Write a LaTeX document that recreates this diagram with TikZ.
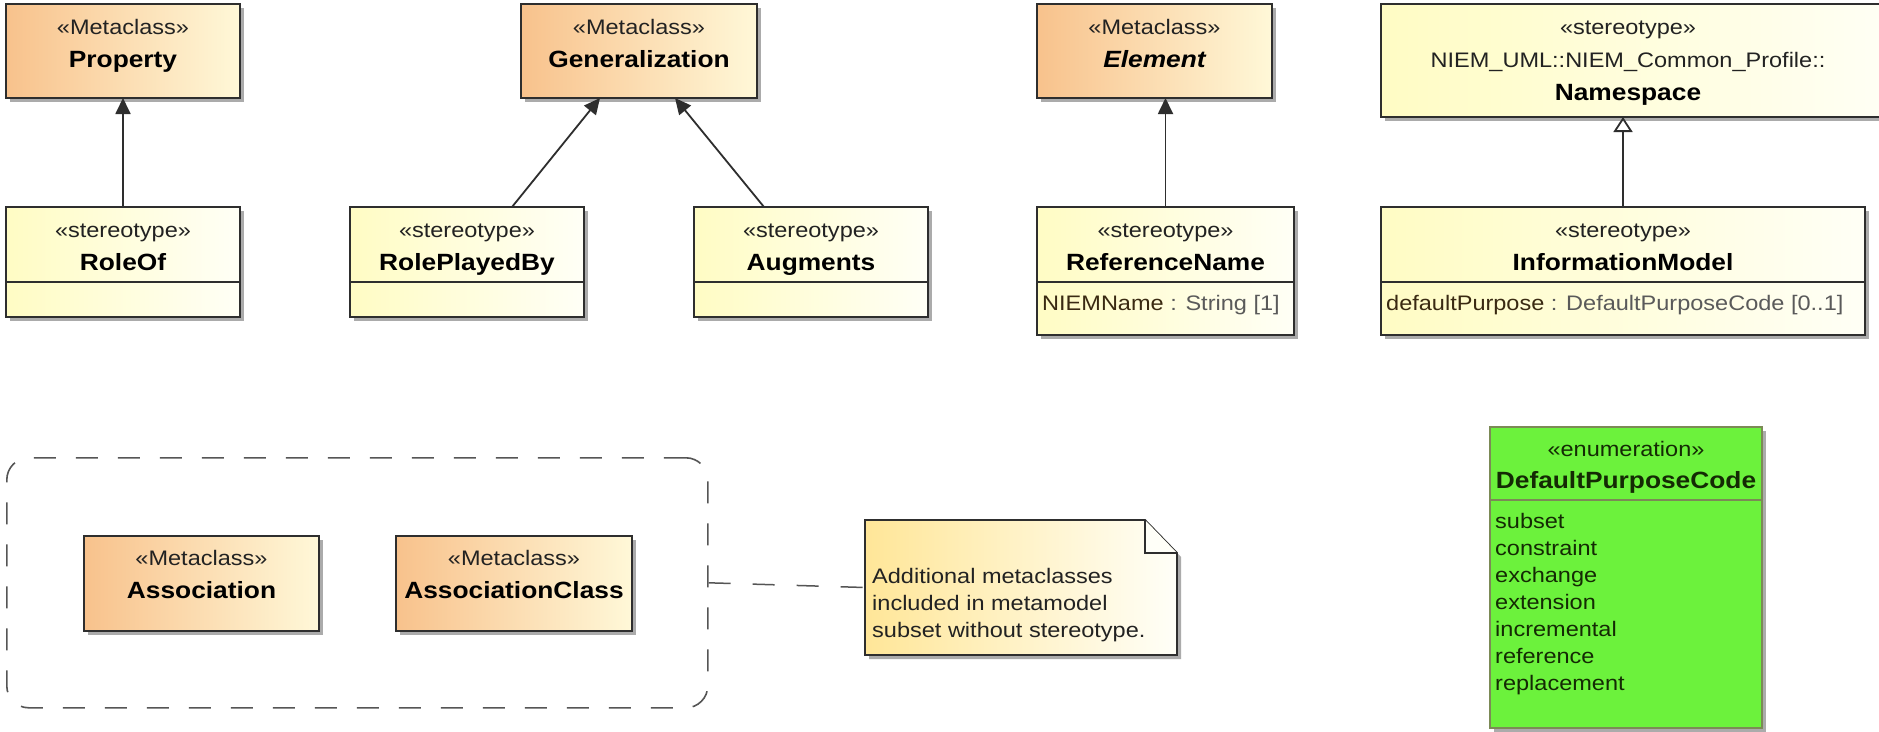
\documentclass[tikz,border=0pt]{standalone}
\usepackage{fontspec}
\setmainfont{Liberation Sans}[FakeStretch=1.12]
\usetikzlibrary{arrows.meta,shadows,calc}

% palette
\definecolor{metaL}{HTML}{F8C28C}
\definecolor{metaR}{HTML}{FFF8D8}
\definecolor{stereoL}{HTML}{FFFCC4}
\definecolor{stereoR}{HTML}{FFFFF6}
\definecolor{noteL}{HTML}{FFE698}
\definecolor{noteR}{HTML}{FFFFF8}
\definecolor{enumfill}{HTML}{6CF23C}
\definecolor{enumline}{HTML}{7C8A56}
\definecolor{enumtext}{HTML}{142A04}
\definecolor{edgec}{HTML}{2E2E2E}
\definecolor{dashc}{HTML}{555555}
\definecolor{shadowc}{HTML}{ABABAB}
\definecolor{kwc}{HTML}{222222}
\definecolor{attrc}{HTML}{3A2A12}
\definecolor{typec}{HTML}{5A5A5A}

\tikzset{
  umlbox/.style={draw=edgec, line width=1.8pt, anchor=north west, inner sep=0pt, outer sep=0pt,
    drop shadow={shadow xshift=4pt, shadow yshift=-4pt, fill=shadowc, opacity=1}},
  metabox/.style={umlbox, left color=metaL, right color=metaR},
  stereobox/.style={umlbox, left color=stereoL, right color=stereoR},
  kw/.style={anchor=base, inner sep=0pt, font=\fontsize{21}{25}\selectfont, text=kwc},
  cname/.style={anchor=base, inner sep=0pt, font=\fontsize{23.5}{27}\selectfont\bfseries, text=black},
  attr/.style={anchor=base west, inner sep=0pt, font=\fontsize{21}{25}\selectfont, text=attrc},
  notetext/.style={anchor=base west, inner sep=0pt, font=\fontsize{21}{25}\selectfont, text=kwc},
  divider/.style={edgec, line width=1.5pt},
  ext/.style={edgec, line width=1.8pt, -{Triangle[length=16pt,width=15pt]}},
  genarrow/.style={edgec, line width=1.8pt, -{Triangle[open,length=15pt,width=19pt,fill=white]}},
  link/.style={dashc, line width=1.5pt, dash pattern=on 22pt off 22pt},
}

\begin{document}
\begin{tikzpicture}[x=1pt,y=-1pt]
\clip (0,0) rectangle (1879,731);
\fill[white] (0,0) rectangle (1879,731);

% ---------- top row: metaclasses and stereotypes ----------
\node[metabox, minimum width=234pt, minimum height=94pt] (property) at (6,4) {};
\node[kw]    (propertyK) at ($(property.north)+(0,30)$) {«Metaclass»};
\node[cname] (propertyN) at ($(property.north)+(0,63)$) {Property};

\node[stereobox, minimum width=234pt, minimum height=110pt] (roleof) at (6,207) {};
\node[kw]    (roleofK) at ($(roleof.north)+(0,30)$) {«stereotype»};
\node[cname] (roleofN) at ($(roleof.north)+(0,63)$) {RoleOf};
\draw[divider] ($(roleof.north west)+(0,75)$) -- ($(roleof.north east)+(0,75)$);

\node[metabox, minimum width=236pt, minimum height=94pt] (gen) at (521,4) {};
\node[kw]    (genK) at ($(gen.north)+(0,30)$) {«Metaclass»};
\node[cname] (genN) at ($(gen.north)+(0,63)$) {Generalization};

\node[stereobox, minimum width=234pt, minimum height=110pt] (rpb) at (350,207) {};
\node[kw]    (rpbK) at ($(rpb.north)+(0,30)$) {«stereotype»};
\node[cname] (rpbN) at ($(rpb.north)+(0,63)$) {RolePlayedBy};
\draw[divider] ($(rpb.north west)+(0,75)$) -- ($(rpb.north east)+(0,75)$);

\node[stereobox, minimum width=234pt, minimum height=110pt] (aug) at (694,207) {};
\node[kw]    (augK) at ($(aug.north)+(0,30)$) {«stereotype»};
\node[cname] (augN) at ($(aug.north)+(0,63)$) {Augments};
\draw[divider] ($(aug.north west)+(0,75)$) -- ($(aug.north east)+(0,75)$);

\node[metabox, minimum width=235pt, minimum height=94pt] (element) at (1037,4) {};
\node[kw]    (elementK) at ($(element.north)+(0,30)$) {«Metaclass»};
\node[cname] (elementN) at ($(element.north)+(0,63)$) {\itshape Element};

\node[stereobox, minimum width=257pt, minimum height=128pt] (refname) at (1037,207) {};
\node[kw]    (refnameK) at ($(refname.north)+(0,30)$) {«stereotype»};
\node[cname] (refnameN) at ($(refname.north)+(0,63)$) {ReferenceName};
\draw[divider] ($(refname.north west)+(0,75)$) -- ($(refname.north east)+(0,75)$);
\node[attr]  (refnameA) at ($(refname.north west)+(5,103)$) {NIEMName\textcolor{typec}{\ : String [1]}};

\node[stereobox, minimum width=520pt, minimum height=113pt] (namespace) at (1381,4) {};
\node[kw]    (namespaceK) at ($(namespace.north west)+(247,30)$) {«stereotype»};
\node[kw]    (namespaceP) at ($(namespace.north west)+(247,63)$) {NIEM\_UML::NIEM\_Common\_Profile::};
\node[cname] (namespaceN) at ($(namespace.north west)+(247,96)$) {Namespace};

\node[stereobox, minimum width=484pt, minimum height=128pt] (infomodel) at (1381,207) {};
\node[kw]    (infomodelK) at ($(infomodel.north)+(0,30)$) {«stereotype»};
\node[cname] (infomodelN) at ($(infomodel.north)+(0,63)$) {InformationModel};
\draw[divider] ($(infomodel.north west)+(0,75)$) -- ($(infomodel.north east)+(0,75)$);
\node[attr]  (infomodelA) at ($(infomodel.north west)+(5,103)$) {defaultPurpose\textcolor{typec}{\ : DefaultPurposeCode [0..1]}};

% ---------- extensions and generalization ----------
\draw[ext] (roleof.north) -- (property.south);
\draw[ext] ($(rpb.north west)+(162,0)$) -- ($(gen.south west)+(79,0)$);
\draw[ext] ($(aug.north west)+(70,0)$) -- ($(gen.south west)+(154,0)$);
\draw[ext] (refname.north) -- (refname.north |- element.south);
\draw[genarrow] (infomodel.north) -- (infomodel.north |- namespace.south);

% ---------- bottom row ----------
\node[draw=dashc, line width=1.6pt, dash pattern=on 22pt off 20pt, rounded corners=22pt,
      anchor=north west, inner sep=0pt, minimum width=701pt, minimum height=250pt] (group) at (6,457) {};

\node[metabox, minimum width=235pt, minimum height=95pt] (assoc) at (84,536) {};
\node[kw]    (assocK) at ($(assoc.north)+(0,29)$) {«Metaclass»};
\node[cname] (assocN) at ($(assoc.north)+(0,62)$) {Association};

\node[metabox, minimum width=236pt, minimum height=95pt] (assocclass) at (396,536) {};
\node[kw]    (assocclassK) at ($(assocclass.north)+(0,29)$) {«Metaclass»};
\node[cname] (assocclassN) at ($(assocclass.north)+(0,62)$) {AssociationClass};

% comment note with folded corner
\node[anchor=north west, inner sep=0pt, outer sep=0pt, minimum width=312pt, minimum height=135pt] (note) at (865,520) {};
\fill[shadowc] ($(note.north west)+(4,4)$) -- ($(note.north east)+(-28,4)$) -- ($(note.north east)+(4,37)$)
  -- ($(note.south east)+(4,4)$) -- ($(note.south west)+(4,4)$) -- cycle;
\path[draw=edgec, line width=1.8pt, left color=noteL, right color=noteR, line join=miter]
  (note.north west) -- ($(note.north east)+(-32,0)$) -- ($(note.north east)+(0,33)$)
  -- (note.south east) -- (note.south west) -- cycle;
\draw[edgec, line width=1.8pt, fill=noteR]
  ($(note.north east)+(-32,0)$) -- ($(note.north east)+(-32,33)$) -- ($(note.north east)+(0,33)$);
\node[notetext] (noteA) at ($(note.north west)+(7,63)$) {Additional metaclasses};
\node[notetext] (noteB) at ($(note.north west)+(7,90)$) {included in metamodel};
\node[notetext] (noteC) at ($(note.north west)+(7,117)$) {subset without stereotype.};

\draw[link] (group.east) -- (note.west);

% enumeration
\node[umlbox, draw=enumline, fill=enumfill, minimum width=272pt, minimum height=301pt] (dpc) at (1490,427) {};
\node[kw, text=enumtext]    (dpcK) at ($(dpc.north)+(0,29)$) {«enumeration»};
\node[cname, text=enumtext] (dpcN) at ($(dpc.north)+(0,61)$) {DefaultPurposeCode};
\draw[enumline, line width=1.5pt] ($(dpc.north west)+(0,73)$) -- ($(dpc.north east)+(0,73)$);
\foreach \lit [count=\i] in {subset,constraint,exchange,extension,incremental,reference,replacement}
  \node[attr, text=enumtext] (lit\i) at ($(dpc.north west)+(5,74+27*\i)$) {\lit};
\end{tikzpicture}
\end{document}
